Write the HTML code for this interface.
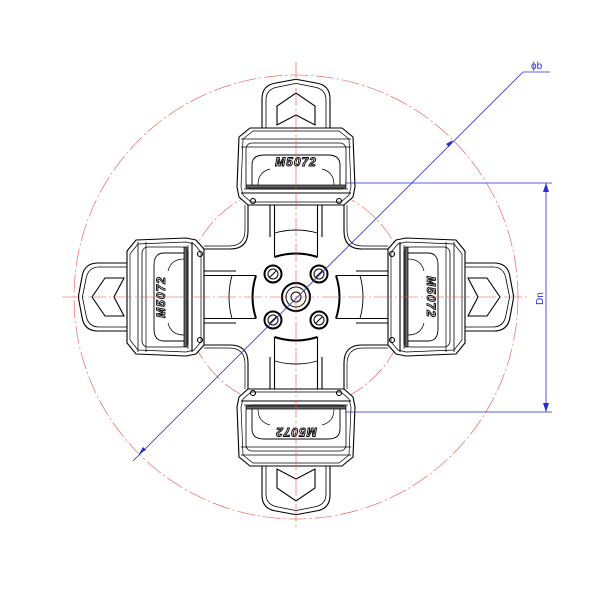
<!DOCTYPE html>
<html><head><meta charset="utf-8"><style>html,body{margin:0;padding:0;background:#fff;}svg{display:block}</style></head>
<body>
<svg width="600" height="600" viewBox="0 0 600 600" xmlns="http://www.w3.org/2000/svg">
<defs>
<g id="arm" fill="none" stroke="#000" stroke-width="1.1">
  <path d="M-34,-168 V-198 Q-34,-212 -20,-214 L-4,-217 Q0,-218 4,-217 L20,-214 Q34,-212 34,-198 V-168"/>
  <path d="M-30,-168 V-197 Q-30,-208 -18,-210 L-3,-213 Q0,-214 3,-213 L18,-210 Q30,-208 30,-197 V-168" stroke-width="0.8"/>
  <path d="M-19,-172 V-191 L0,-204 L19,-191 V-172 L0,-182 Z"/>
  <path d="M-46,-169 L46,-169 L57,-160 L59,-110 L57,-100 L48,-92 L-48,-92 L-57,-100 L-59,-110 L-57,-160 Z" fill="#fff"/>
  <path d="M-43,-166 L43,-166 L53,-158 L55,-110 L53,-102 L45,-95 L-45,-95 L-53,-102 L-55,-110 L-53,-158 Z" stroke-width="0.7"/>
  <line x1="-55" y1="-158" x2="55" y2="-158" stroke-width="0.8"/>
  <line x1="-55" y1="-150" x2="55" y2="-150" stroke-width="0.7"/>
  <rect x="-50" y="-154" width="100" height="46" rx="6" stroke-width="0.8"/>
  <path d="M-44,-112 V-132 Q-44,-142 -32,-142 H32 Q44,-142 44,-132 V-112" stroke-width="0.9"/>
  <path d="M-38,-112 Q-38,-125 -26,-128 M38,-112 Q38,-125 26,-128" stroke-width="0.7"/>
  <text x="0" y="-131" text-anchor="middle" font-family="Liberation Sans, sans-serif" font-size="12" font-weight="bold" font-style="italic" fill="#fff" stroke="#000" stroke-width="0.9" letter-spacing="1">M5072</text>
  <rect x="-50" y="-112" width="100" height="3" fill="#666" stroke-width="0.7"/>
  <line x1="-52" y1="-108" x2="52" y2="-108" stroke-width="0.7"/>
  <line x1="-55" y1="-104" x2="55" y2="-104"/>
  <circle cx="-43" cy="-96" r="2.5"/><circle cx="43" cy="-96" r="2.5"/>
  <line x1="-26" y1="-92" x2="-26" y2="-60"/><line x1="26" y1="-92" x2="26" y2="-60"/>
  <line x1="-21.5" y1="-92" x2="-21.5" y2="-40"/><line x1="21.5" y1="-92" x2="21.5" y2="-40"/>
  <path d="M-21.5,-64 Q0,-70 21.5,-64" stroke-width="0.9"/>
  <path d="M-21.5,-40 Q0,-47 21.5,-40" stroke-width="2"/>
  <path d="M-48,-92 V-66 Q-48,-48 -66,-48 H-92" stroke-width="1.1"/>
  <path d="M-51,-92 V-67 Q-51,-51 -67,-51 H-92" stroke-width="0.7"/>
</g>
</defs>
<g stroke="#e85050" stroke-width="0.6" fill="none" stroke-dasharray="18,3,2,3">
  <circle cx="296" cy="297" r="222"/>
  <circle cx="296" cy="297" r="112"/>
</g>
<g transform="translate(296,297)">
  <use href="#arm"/>
  <use href="#arm" transform="rotate(90)"/>
  <use href="#arm" transform="rotate(180)"/>
  <use href="#arm" transform="rotate(270)"/>
  <g fill="none" stroke="#000">
    <circle r="14" stroke-width="2"/><circle r="10" stroke-width="1"/><circle r="5" stroke-width="1"/>
    <g stroke-width="2">
      <circle cx="-23" cy="-23" r="8.5"/><circle cx="23" cy="-23" r="8.5"/>
      <circle cx="-23" cy="23" r="8.5"/><circle cx="23" cy="23" r="8.5"/>
    </g>
    <g stroke-width="1">
      <circle cx="-23" cy="-23" r="5"/><circle cx="23" cy="-23" r="5"/>
      <circle cx="-23" cy="23" r="5"/><circle cx="23" cy="23" r="5"/>
      <path d="M-26,-20 L-20,-26 M20,-20 L26,-26 M-26,26 L-20,20 M20,26 L26,20"/>
    </g>
  </g>
</g>
<g stroke="#e85050" stroke-width="0.6" stroke-dasharray="18,3,2,3">
  <line x1="62" y1="297" x2="528" y2="297"/>
  <line x1="296" y1="62" x2="296" y2="528"/>
</g>
<g stroke="#2a2ad0" stroke-width="0.8" fill="none">
  <line x1="133" y1="461" x2="523" y2="72"/>
  <line x1="523" y1="72" x2="550" y2="72"/>
  <line x1="345" y1="183" x2="552" y2="183"/>
  <line x1="345" y1="412" x2="552" y2="412"/>
  <line x1="546" y1="183" x2="546" y2="412"/>
</g>
<g fill="#2a2ad0">
  <path d="M453,140 L446,144 L449,147 Z"/>
  <path d="M139,454 L146,450 L143,447 Z"/>
  <path d="M546,183 L543,192 L549,192 Z"/>
  <path d="M546,412 L543,403 L549,403 Z"/>
  <text x="531" y="69" font-family="Liberation Sans, sans-serif" font-size="10">ϕb</text>
  <text transform="translate(543,305) rotate(-90)" font-family="Liberation Sans, sans-serif" font-size="10">Dn</text>
</g>
</svg>
</body></html>
